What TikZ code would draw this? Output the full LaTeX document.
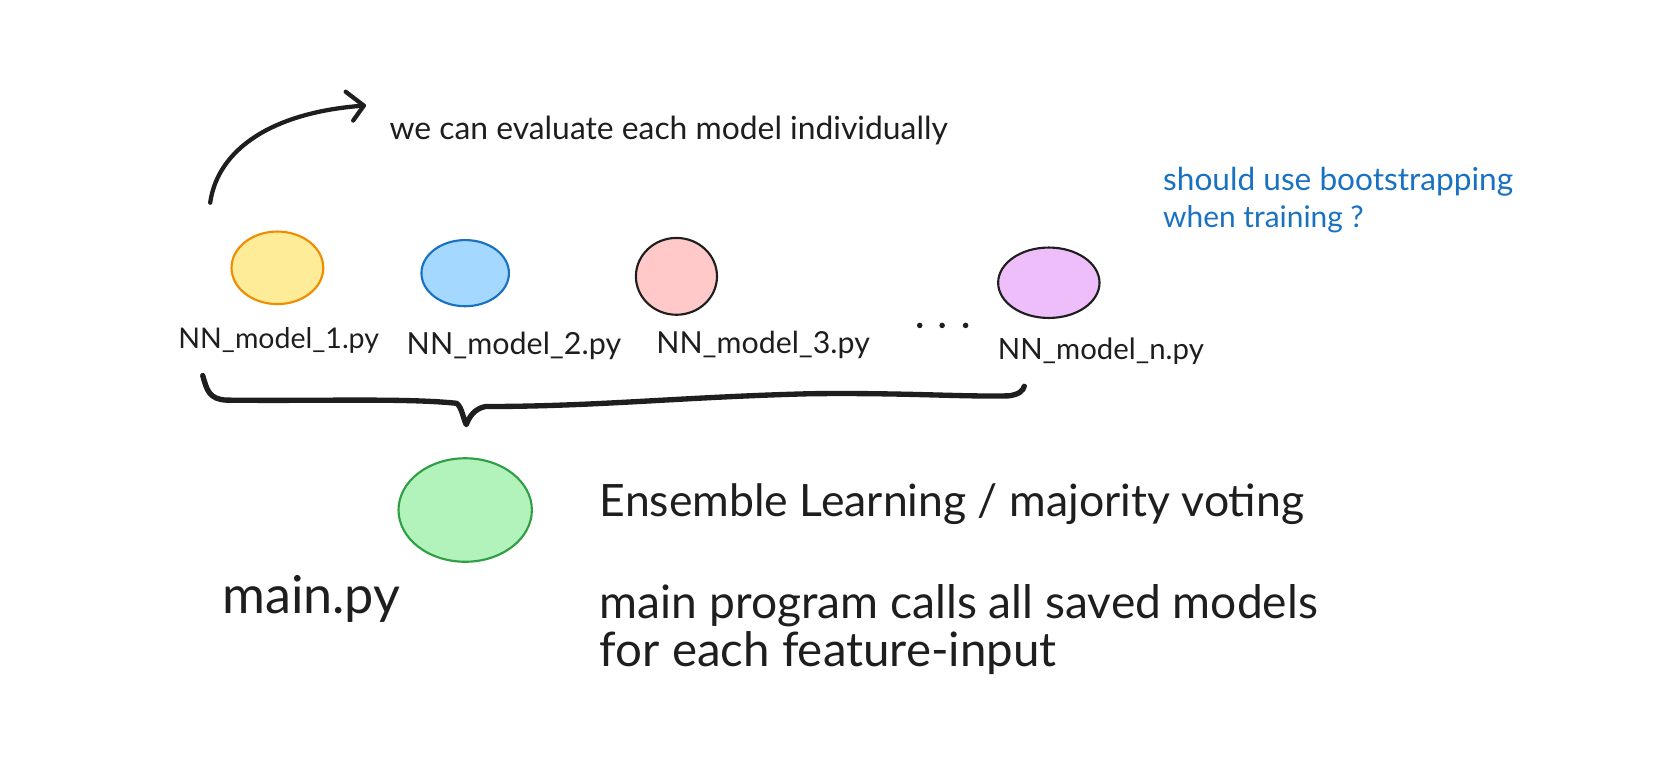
\documentclass[tikz,border=0pt]{standalone}
\usepackage{fontspec}
\setmainfont{Lato}
\usepackage{graphicx}
\usetikzlibrary{shapes.geometric}
\definecolor{ink}{HTML}{1E1E1E}
\definecolor{ylwfill}{HTML}{FFEC99}
\definecolor{ylwline}{HTML}{F08C00}
\definecolor{bluefill}{HTML}{A5D8FF}
\definecolor{blueline}{HTML}{1971C2}
\definecolor{pinkfill}{HTML}{FFC9C9}
\definecolor{purpfill}{HTML}{EEBEFA}
\definecolor{grnfill}{HTML}{B2F2BB}
\definecolor{grnline}{HTML}{2F9E44}
\newcommand{\fw}[2]{\resizebox{#1pt}{!}{#2}}
\tikzset{
  blob/.style={ellipse, inner sep=0pt, line width=2pt},
  txt/.style={anchor=base west, inner sep=0pt, text=ink},
  note/.style={anchor=base west, inner sep=0pt, text=blueline},
  pen/.style={draw=ink, line width=4.5pt, line cap=round, line join=round}
}
\begin{document}
\begin{tikzpicture}[x=1pt,y=-1pt]
\useasboundingbox (0,0) rectangle (1568,717);

% model ellipses
\node[blob, fill=ylwfill, draw=ylwline, minimum width=86pt, minimum height=68pt] (m1) at (260,251) {};
\node[blob, fill=bluefill, draw=blueline, minimum width=82pt, minimum height=62pt] (m2) at (436,256) {};
\node[blob, fill=pinkfill, draw=ink, minimum width=76pt, minimum height=72pt] (m3) at (634,259) {};
\node[blob, fill=purpfill, draw=ink, minimum width=95pt, minimum height=66pt] (mn) at (983,265) {};
\node[blob, fill=grnfill, draw=grnline, minimum width=125pt, minimum height=97pt] (mainell) at (436,478) {};

% labels
\node[txt] (l1) at (167,327) {\fw{188}{NN\_model\_1.py}};
\node[txt] (l2) at (381,332) {\fw{201}{NN\_model\_2.py}};
\node[txt] (l3) at (615,331) {\fw{200}{NN\_model\_3.py}};
\node[txt] (ln) at (935,337) {\fw{193}{NN\_model\_n.py}};
\foreach \i/\x in {1/862,2/883,3/905}{
  \fill[ink] (\x,305) circle (2.6) coordinate (dot\i);
}

% top annotation
\node[txt] (eval) at (365,131) {\fw{523}{we can evaluate each model individually}};
\node[note] (boot1) at (1090,179) {\fw{328}{should use bootstrapping}};
\node[note] (boot2) at (1090,213) {\fw{188}{when training ?}};

% arrow
\coordinate (arrS) at (197,190);
\coordinate (arrE) at (341,99);
\draw[pen, line width=4pt] (arrS) .. controls (204,140) and (255,105) .. (arrE);
\draw[pen, line width=4pt] (324,86) -- (arrE) -- (331,113);

% brace
\coordinate (brL) at (190,352);
\coordinate (brT) at (437,398);
\coordinate (brR) at (960,362);
\draw[pen, line width=5pt] (brL) .. controls (194,366) and (196,374) .. (212,375)
  .. controls (300,376) and (380,373) .. (428,378)
  .. controls (433,382) and (434,392) .. (brT)
  .. controls (440,390) and (445,383) .. (455,381)
  .. controls (560,381) and (640,372) .. (760,369)
  .. controls (850,368) and (900,372) .. (945,371)
  .. controls (955,370) and (959,366) .. (brR);

% main part
\node[txt] (mainpy) at (208,575) {\fw{167}{main.py}};
\node[txt] (ens) at (562,484) {\fw{660}{Ensemble Learning / majority voting}};
\node[txt] (calls1) at (562,580) {\fw{673}{main program calls all saved models}};
\node[txt] (calls2) at (562,625) {\fw{428}{for each feature-input}};
\end{tikzpicture}
\end{document}
